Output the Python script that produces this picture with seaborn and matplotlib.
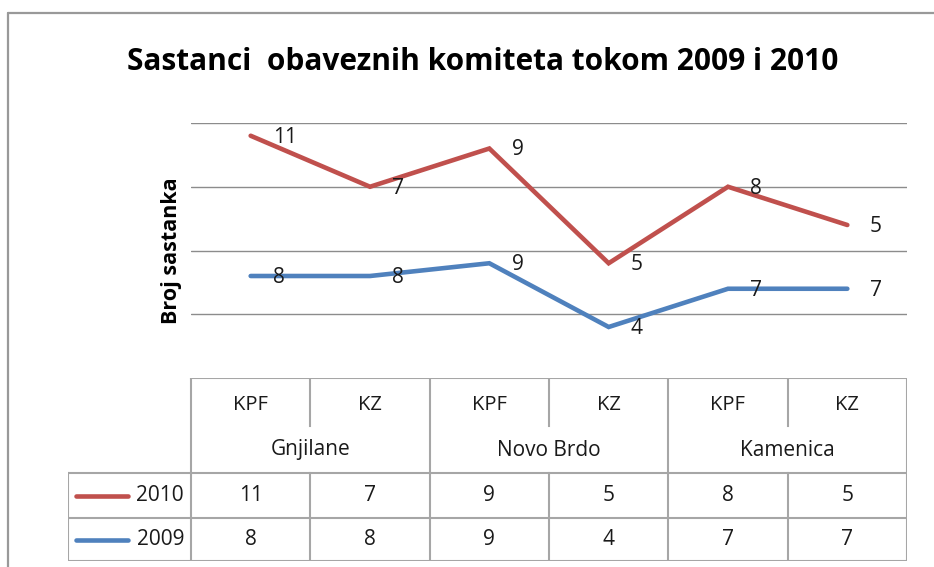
import numpy as np
import pandas as pd
import matplotlib
matplotlib.use("Agg")
import matplotlib.pyplot as plt
from matplotlib.lines import Line2D
import seaborn as sns

# Meetings of mandatory committees per municipality
municipalities = ["Gnjilane", "Novo Brdo", "Kamenica"]
committees = ["KPF", "KZ", "KPF", "KZ", "KPF", "KZ"]
series_names = ["2010", "2009"]
meetings_2010 = [11, 7, 9, 5, 8, 5]
meetings_2009 = [8, 8, 9, 4, 7, 7]

title = "Sastanci  obaveznih komiteta tokom 2009 i 2010"
y_label = "Broj sastanka"

RED = "#C0504D"
BLUE = "#4F81BD"
GRID = "#8c8c8c"
TABLE_LINE = "#a6a6a6"
TEXT = "#1a1a1a"

sns.set_theme(style="white")
plt.rcParams["font.family"] = ["Open Sans", "DejaVu Sans"]

W, H = 934, 567
fig = plt.figure(figsize=(W / 100, H / 100), dpi=100)


def fx(px):
    return px / W


def fy(py):
    return 1 - py / H


# Stacked line chart: the 2010 series sits on top of the 2009 series
positions = np.arange(len(committees))
stack_2009 = np.array(meetings_2009)
stack_2010 = stack_2009 + np.array(meetings_2010)

df = pd.DataFrame({
    "pos": np.concatenate([positions, positions]),
    "level": np.concatenate([stack_2010, stack_2009]),
    "label": np.concatenate([meetings_2010, meetings_2009]),
    "series": ["2010"] * len(positions) + ["2009"] * len(positions),
})

left_px, right_px, top_px, bottom_px = 191, 907, 123, 378
ax = fig.add_axes([fx(left_px), fy(bottom_px), fx(right_px - left_px),
                   (bottom_px - top_px) / H])
sns.lineplot(data=df, x="pos", y="level", hue="series",
             palette={"2010": RED, "2009": BLUE}, linewidth=3.3,
             legend=False, ax=ax, solid_joinstyle="miter")
ax.set_xlim(-0.5, 5.5)
ax.set_ylim(0, 20)
ax.set_yticks([0, 5, 10, 15, 20])
for yv in [5, 10, 15, 20]:
    ax.axhline(yv, color=GRID, lw=1.0, zorder=0)
ax.set_xticks([])
ax.set_yticklabels([])
ax.tick_params(left=False, bottom=False)
for s in ax.spines.values():
    s.set_visible(False)
ax.set_xlabel("")
ax.set_ylabel(y_label, fontsize=15.5, fontweight="bold", color="black")
ax.yaxis.set_label_coords(-0.0125, 0.5)

# Data labels to the right of each point
for _, row in df.iterrows():
    ax.annotate(str(row["label"]), (row["pos"], row["level"]),
                xytext=(16, -1), textcoords="offset points",
                ha="left", va="center", fontsize=15, color=TEXT)

fig.text(fx(483), fy(62), title, ha="center", va="center",
         fontsize=21.5, fontweight="bold", color="black")

# Data table beneath the plot
tab_left_px, tab_bottom_px = 68, 561
unit = (right_px - left_px) / 6.0
x_left = -0.5 - (left_px - tab_left_px) / unit
tab = fig.add_axes([fx(tab_left_px), fy(tab_bottom_px),
                    fx(right_px - tab_left_px),
                    (tab_bottom_px - bottom_px) / H])
tab.set_xlim(x_left, 5.5)
tab.set_ylim(tab_bottom_px - bottom_px, 0)
tab.axis("off")

r_cat, r_grp, r_a, r_b, r_end = 48, 95, 140, 183, 183
lkw = dict(color=TABLE_LINE, lw=1.5, solid_capstyle="projecting")

tab.plot([-0.5, 5.5], [0, 0], **lkw)
for yv in [r_grp, r_a, r_b]:
    tab.plot([x_left, 5.5], [yv, yv], **lkw)
tab.plot([x_left, x_left], [r_grp, r_end], **lkw)
for xv in [-0.5, 1.5, 3.5, 5.5]:
    tab.plot([xv, xv], [0, r_end], **lkw)
for xv in [0.5, 2.5, 4.5]:
    tab.plot([xv, xv], [0, r_cat], **lkw)
    tab.plot([xv, xv], [r_grp, r_end], **lkw)

for p, c in zip(positions, committees):
    tab.text(p, 27, c, ha="center", va="center", fontsize=14.5, color=TEXT)
for i, m in enumerate(municipalities):
    tab.text(2 * i + 0.5, 72, m, ha="center", va="center",
             fontsize=15, color=TEXT)

rows = [(series_names[0], meetings_2010, RED, (r_grp + r_a) / 2),
        (series_names[1], meetings_2009, BLUE, (r_a + r_b) / 2)]
key_x0 = x_left + (76 - tab_left_px) / unit
key_x1 = x_left + (128 - tab_left_px) / unit
for name, vals, col, yc in rows:
    tab.add_line(Line2D([key_x0, key_x1], [yc, yc], color=col, lw=3.3,
                        solid_capstyle="round"))
    tab.text(-0.5 - 7 / unit, yc, name, ha="right", va="center",
             fontsize=15, color=TEXT)
    for p, v in zip(positions, vals):
        tab.text(p, yc, str(v), ha="center", va="center",
                 fontsize=15, color=TEXT)

# Chart frame
fig.add_artist(Line2D([fx(8), fx(W)], [fy(13), fy(13)], color="#999999",
                      lw=1.6, transform=fig.transFigure))
fig.add_artist(Line2D([fx(8), fx(8)], [fy(13), fy(H)], color="#999999",
                      lw=1.6, transform=fig.transFigure))

fig.savefig("out.png", dpi=100, facecolor="white")
